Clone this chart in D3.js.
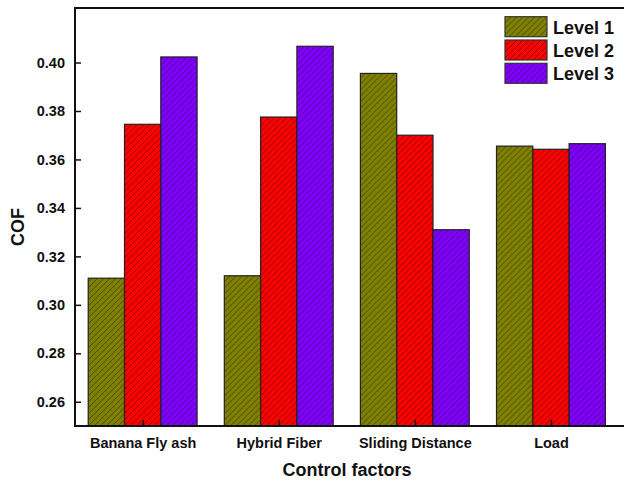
<!DOCTYPE html>
<html>
<head>
<meta charset="utf-8">
<script src="https://cdn.jsdelivr.net/npm/d3@7"></script>
<style>
  html, body { margin: 0; padding: 0; background: #fff; }
  svg { display: block; font-family: "Liberation Sans", Arial, sans-serif; }
</style>
</head>
<body>
<svg id="chart" width="624" height="481"></svg>
<script>
// Control factors on the x axis
const categories = ["Banana Fly ash", "Hybrid Fiber", "Sliding Distance", "Load"];
// Mean COF for each level of each factor
const level1 = [0.311, 0.312, 0.3955, 0.3655];
const level2 = [0.3745, 0.3775, 0.370, 0.3642];
const level3 = [0.4023, 0.4067, 0.331, 0.3665];
const seriesNames = ["Level 1", "Level 2", "Level 3"];
const seriesColors = ["#808000", "#ff0000", "#8000ff"];
const yTicks = [0.26, 0.28, 0.30, 0.32, 0.34, 0.36, 0.38, 0.40];

const series = [level1, level2, level3];
const W = 624, H = 481;
const plotLeft = 75, plotRight = 619, plotTop = 8, plotBottom = 426;

const svg = d3.select("#chart");

// Diagonal hatch fill for each series
const defs = svg.append("defs");
seriesColors.forEach((c, i) => {
  const p = defs.append("pattern")
    .attr("id", "hatch" + i)
    .attr("patternUnits", "userSpaceOnUse")
    .attr("width", 6).attr("height", 6);
  p.append("rect").attr("width", 6).attr("height", 6).attr("fill", c);
  p.append("path")
    .attr("d", "M-1,1 L1,-1 M0,6 L6,0 M5,7 L7,5")
    .attr("stroke", "#1a1a1a").attr("stroke-width", 0.6).attr("stroke-opacity", 0.85);
});

const x = d3.scaleBand().domain(categories).range([74.6, plotRight]).paddingInner(0.2).paddingOuter(0.1);
const xs = d3.scaleBand().domain(d3.range(3)).range([0, x.bandwidth()]);
const y = d3.scaleLinear().domain([0.25, 0.4225]).range([plotBottom, plotTop]);

// Bars
categories.forEach((cat, ci) => {
  const g = svg.append("g").attr("transform", `translate(${x(cat)},0)`);
  series.forEach((vals, si) => {
    g.append("rect")
      .attr("x", xs(si))
      .attr("y", y(vals[ci]))
      .attr("width", xs.bandwidth())
      .attr("height", plotBottom - y(vals[ci]))
      .attr("fill", `url(#hatch${si})`)
      .attr("stroke", "#222").attr("stroke-width", 1.2);
  });
});

// Frame lines (left, top, bottom)
svg.append("path")
  .attr("d", `M${W + 5},${plotTop} H${plotLeft} V${plotBottom} H${W + 5}`)
  .attr("fill", "none").attr("stroke", "#111").attr("stroke-width", 2);

// Y axis with inward ticks
const yAxis = d3.axisLeft(y).tickValues(yTicks).tickFormat(d3.format(".2f"))
  .tickSizeInner(-6).tickSizeOuter(0).tickPadding(10);
const gy = svg.append("g").attr("transform", `translate(${plotLeft},0)`).call(yAxis);
gy.select(".domain").remove();
gy.selectAll(".tick line").attr("stroke", "#111").attr("stroke-width", 1.5);
gy.selectAll(".tick text").attr("font-size", 14.5).attr("font-weight", "bold")
  .attr("fill", "#111").attr("font-family", "Liberation Sans, Arial, sans-serif");

// X axis with inward ticks at category centres
const xAxis = d3.axisBottom(d3.scalePoint().domain(categories)
    .range([x(categories[0]) + x.bandwidth() / 2, x(categories[3]) + x.bandwidth() / 2]))
  .tickSizeInner(-6).tickSizeOuter(0).tickPadding(12);
const gx = svg.append("g").attr("transform", `translate(0,${plotBottom})`).call(xAxis);
gx.select(".domain").remove();
gx.selectAll(".tick line").attr("stroke", "#111").attr("stroke-width", 1.5);
gx.selectAll(".tick text").attr("font-size", 14.5).attr("font-weight", "bold")
  .attr("fill", "#111").attr("font-family", "Liberation Sans, Arial, sans-serif");

// Axis titles
svg.append("text")
  .attr("x", (plotLeft + plotRight) / 2).attr("y", 476)
  .attr("text-anchor", "middle")
  .attr("font-size", 18).attr("font-weight", "bold").attr("fill", "#111")
  .text("Control factors");
svg.append("text")
  .attr("transform", `translate(24,227) rotate(-90)`)
  .attr("text-anchor", "middle")
  .attr("font-size", 18).attr("font-weight", "bold").attr("fill", "#111")
  .text("COF");

// Legend
const lg = svg.append("g").attr("transform", "translate(505,16.7)");
seriesNames.forEach((name, i) => {
  const row = lg.append("g").attr("transform", `translate(0,${i * 23.3})`);
  row.append("rect").attr("width", 42).attr("height", 20)
    .attr("fill", `url(#hatch${i})`).attr("stroke", "#333").attr("stroke-width", 1.2);
  row.append("text").attr("x", 48).attr("y", 17)
    .attr("font-size", 18).attr("font-weight", "bold").attr("fill", "#111")
    .text(name);
});
</script>
</body>
</html>
